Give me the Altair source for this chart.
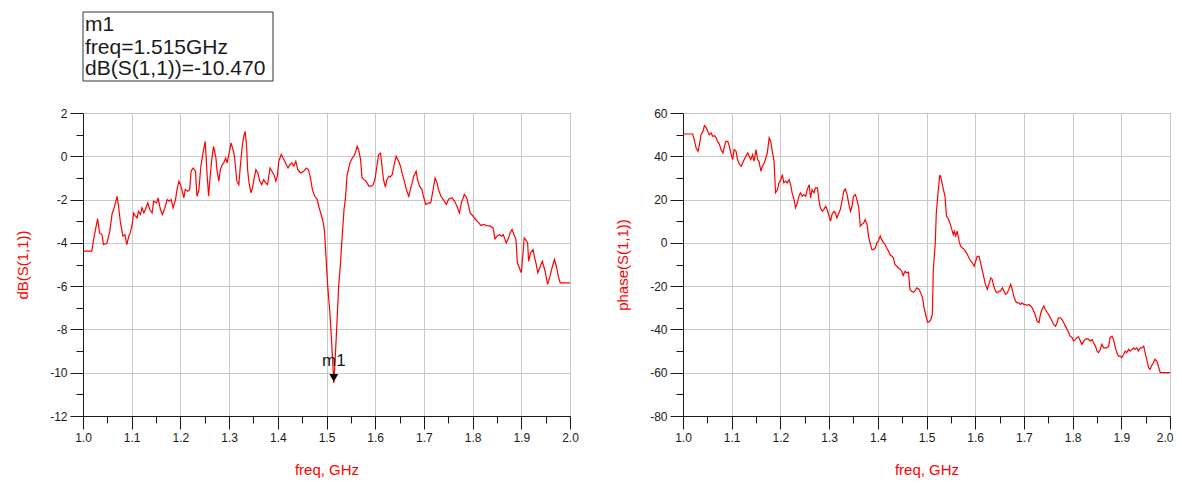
import altair as alt
import pandas as pd

# ---------------- data ----------------
db_freq = [
    1.000, 1.018, 1.023, 1.030, 1.034, 1.039, 1.042, 1.049, 1.055, 1.060,
    1.063, 1.070, 1.073, 1.077, 1.082, 1.086, 1.090, 1.094, 1.097, 1.101,
    1.104, 1.108, 1.111, 1.114, 1.118, 1.121, 1.125, 1.128, 1.133, 1.137,
    1.142, 1.145, 1.151, 1.154, 1.159, 1.163, 1.167, 1.173, 1.177, 1.181,
    1.185, 1.190, 1.193, 1.197, 1.200, 1.203, 1.207, 1.210, 1.215, 1.219,
    1.222, 1.226, 1.231, 1.234, 1.238, 1.242, 1.247, 1.251, 1.255, 1.258,
    1.260, 1.264, 1.268, 1.273, 1.275, 1.279, 1.282, 1.286, 1.289, 1.293,
    1.296, 1.300, 1.304, 1.308, 1.311, 1.314, 1.316, 1.320, 1.323, 1.327,
    1.330, 1.333, 1.336, 1.338, 1.341, 1.345, 1.348, 1.351, 1.355, 1.359,
    1.363, 1.367, 1.371, 1.375, 1.379, 1.384, 1.388, 1.392, 1.396, 1.399,
    1.402, 1.407, 1.411, 1.416, 1.421, 1.425, 1.429, 1.433, 1.437, 1.441,
    1.447, 1.453, 1.459, 1.463, 1.467, 1.471, 1.476, 1.481, 1.484, 1.488,
    1.492, 1.496, 1.500, 1.503, 1.507, 1.510, 1.513, 1.515, 1.517, 1.520,
    1.525, 1.529, 1.532, 1.536, 1.539, 1.542, 1.548, 1.553, 1.556, 1.559,
    1.563, 1.566, 1.570, 1.573, 1.577, 1.581, 1.587, 1.592, 1.596, 1.600,
    1.604, 1.607, 1.611, 1.614, 1.617, 1.621, 1.624, 1.628, 1.631, 1.635,
    1.639, 1.643, 1.648, 1.652, 1.655, 1.660, 1.664, 1.669, 1.672, 1.676,
    1.679, 1.684, 1.687, 1.691, 1.696, 1.699, 1.704, 1.710, 1.714, 1.719,
    1.723, 1.727, 1.730, 1.735, 1.740, 1.746, 1.751, 1.758, 1.763, 1.768,
    1.773, 1.777, 1.783, 1.788, 1.792, 1.795, 1.801, 1.806, 1.812, 1.817,
    1.822, 1.829, 1.836, 1.842, 1.846, 1.850, 1.855, 1.860, 1.863, 1.869,
    1.874, 1.877, 1.881, 1.885, 1.889, 1.892, 1.896, 1.900, 1.903, 1.906,
    1.909, 1.913, 1.915, 1.919, 1.924, 1.926, 1.930, 1.934, 1.939, 1.943,
    1.945, 1.949, 1.954, 1.959, 1.964, 1.968, 1.972, 1.976, 1.980, 2.000,
]
db_val = [
    -4.38, -4.38, -3.69, -2.89, -3.54, -3.62, -4.08, -4.03, -3.46, -2.62,
    -2.46, -1.85, -2.31, -3.08, -3.69, -3.62, -4.08, -3.69, -3.54, -3.15,
    -2.62, -2.77, -2.85, -2.54, -2.69, -2.38, -2.62, -2.46, -2.15, -2.46,
    -2.62, -2.08, -2.15, -1.92, -2.46, -2.69, -2.46, -2.00, -2.08, -2.00,
    -2.38, -2.00, -1.54, -1.15, -1.31, -1.54, -1.92, -1.54, -1.62, -1.54,
    -0.69, -0.54, -0.69, -1.85, -1.54, -0.46, 0.23, 0.69, -0.92, -1.85,
    -1.23, -0.23, 0.46, -0.08, -0.62, -1.15, -0.62, -0.38, -0.31, -0.08,
    -0.31, 0.15, 0.62, 0.31, 0.00, -0.69, -1.15, -1.31, -0.46, 0.46,
    0.92, 1.15, 0.46, -0.62, -1.23, -1.69, -1.46, -1.08, -0.62, -0.77,
    -1.15, -1.31, -1.08, -1.23, -1.31, -0.54, -0.69, -0.85, -1.15, -0.92,
    -0.23, 0.08, -0.08, -0.31, -0.54, -0.38, -0.31, -0.46, -0.23, -0.62,
    -0.77, -0.69, -0.54, -0.62, -1.00, -1.54, -1.85, -2.00, -2.31, -2.62,
    -2.92, -3.46, -5.08, -6.15, -7.23, -8.38, -9.60, -10.47, -9.69, -8.38,
    -6.00, -4.85, -3.77, -2.46, -1.92, -0.92, -0.31, -0.08, 0.00, 0.15,
    0.46, 0.31, -0.15, -1.00, -1.08, -1.15, -1.38, -1.38, -1.31, -1.00,
    -0.38, 0.08, 0.15, -0.46, -1.08, -1.42, -1.08, -0.92, -0.95, -0.85,
    -0.38, 0.00, -0.23, -0.46, -0.77, -1.15, -1.54, -1.85, -1.54, -1.23,
    -0.92, -0.69, -1.08, -1.38, -1.54, -1.85, -2.23, -2.15, -2.15, -1.54,
    -1.00, -1.23, -1.54, -1.85, -2.00, -2.23, -1.97, -1.92, -2.08, -2.31,
    -2.62, -2.15, -1.77, -1.92, -2.31, -2.62, -2.77, -2.92, -3.05, -3.20,
    -3.15, -3.20, -3.23, -3.31, -3.82, -3.69, -3.62, -3.69, -3.62, -4.00,
    -3.77, -3.54, -3.38, -3.62, -3.85, -4.92, -5.15, -5.38, -4.62, -3.77,
    -3.85, -4.00, -4.85, -4.46, -4.31, -4.54, -4.92, -5.38, -5.08, -4.85,
    -5.00, -5.31, -5.92, -5.54, -5.08, -4.77, -5.08, -5.54, -5.85, -5.85,
]

ph_freq = [
    1.000, 1.020, 1.024, 1.027, 1.031, 1.033, 1.035, 1.037, 1.041, 1.044,
    1.048, 1.051, 1.054, 1.058, 1.061, 1.065, 1.068, 1.071, 1.075, 1.078,
    1.082, 1.085, 1.088, 1.092, 1.095, 1.099, 1.102, 1.105, 1.109, 1.112,
    1.116, 1.120, 1.124, 1.129, 1.133, 1.136, 1.139, 1.143, 1.146, 1.150,
    1.153, 1.156, 1.160, 1.163, 1.167, 1.170, 1.173, 1.177, 1.180, 1.184,
    1.187, 1.190, 1.194, 1.197, 1.201, 1.204, 1.207, 1.211, 1.214, 1.218,
    1.221, 1.224, 1.228, 1.231, 1.235, 1.238, 1.241, 1.245, 1.248, 1.252,
    1.255, 1.259, 1.262, 1.265, 1.269, 1.272, 1.276, 1.279, 1.282, 1.286,
    1.289, 1.293, 1.296, 1.299, 1.303, 1.306, 1.310, 1.313, 1.316, 1.320,
    1.323, 1.327, 1.330, 1.333, 1.337, 1.340, 1.344, 1.347, 1.350, 1.354,
    1.357, 1.361, 1.364, 1.367, 1.371, 1.374, 1.378, 1.381, 1.384, 1.388,
    1.391, 1.395, 1.398, 1.401, 1.405, 1.408, 1.412, 1.415, 1.418, 1.422,
    1.425, 1.429, 1.432, 1.435, 1.439, 1.442, 1.446, 1.449, 1.452, 1.456,
    1.459, 1.463, 1.466, 1.469, 1.473, 1.476, 1.480,
    1.485, 1.488, 1.492, 1.495, 1.499, 1.502, 1.505, 1.509, 1.512, 1.514,
    1.516, 1.518, 1.520, 1.523, 1.525, 1.527, 1.529, 1.531, 1.534, 1.538,
    1.541, 1.544, 1.548, 1.551, 1.555, 1.557, 1.560, 1.563, 1.567, 1.570,
    1.574, 1.577, 1.580, 1.584, 1.587, 1.591, 1.594, 1.598, 1.601, 1.604,
    1.608, 1.611, 1.615, 1.618, 1.621, 1.625, 1.628, 1.632, 1.635, 1.638,
    1.642, 1.645, 1.649, 1.652, 1.656, 1.659, 1.662, 1.666, 1.669, 1.673,
    1.676, 1.679, 1.683, 1.686, 1.690, 1.693, 1.696, 1.700, 1.703, 1.707,
    1.710, 1.714, 1.717, 1.720, 1.724, 1.727, 1.731, 1.734, 1.737, 1.741,
    1.744, 1.748, 1.751, 1.754, 1.758, 1.761, 1.765, 1.768, 1.771, 1.775,
    1.778, 1.782, 1.785, 1.789, 1.792, 1.795, 1.799, 1.802, 1.806, 1.809,
    1.812, 1.816, 1.819, 1.823, 1.826, 1.829, 1.833, 1.836, 1.840, 1.843,
    1.847, 1.850, 1.853, 1.857, 1.860, 1.864, 1.867, 1.870, 1.874, 1.877,
    1.881, 1.884, 1.887, 1.891, 1.894, 1.898, 1.901, 1.905, 1.908, 1.911,
    1.915, 1.918, 1.922, 1.925, 1.928, 1.932, 1.935, 1.939, 1.942, 1.946,
    1.949, 1.953, 1.956, 1.959, 1.962, 1.966, 1.969, 1.973, 1.976, 1.980,
    2.000,
]
ph_val = [
    50.3, 50.3, 46.9, 43.8, 42.3, 44.6, 46.9, 50.0, 51.5, 54.2,
    53.1, 51.5, 50.0, 50.8, 49.2, 49.5, 48.5, 46.9, 45.4, 43.1,
    41.5, 44.6, 46.9, 46.9, 44.6, 40.8, 38.5, 43.1, 42.3, 38.5,
    36.2, 35.4, 37.7, 40.0, 41.5, 40.0, 38.5, 40.8, 37.7, 43.1,
    38.5, 37.7, 33.1, 35.4, 36.9, 39.2, 41.5, 48.5, 46.9, 41.5,
    37.7, 23.1, 24.6, 27.7, 29.2, 31.5, 27.7, 28.5, 27.7, 29.2,
    26.9, 23.1, 20.0, 16.2, 18.5, 21.5, 23.1, 21.5, 22.3, 21.5,
    24.6, 26.9, 20.8, 24.6, 23.1, 25.4, 25.4, 20.0, 16.2, 14.6,
    15.4, 16.9, 15.4, 13.1, 10.0, 13.1, 14.6, 13.8, 11.5, 13.8,
    15.4, 20.0, 23.8, 24.9, 22.3, 18.5, 14.6, 16.9, 21.5, 22.3,
    20.0, 16.2, 7.7, 8.5, 9.2, 10.8, 8.5, 3.1, 0.0, -3.1,
    -3.1, -2.3, 0.0, 0.8, 3.1, 1.5, 0.0, -0.8, -2.3, -3.8,
    -5.4, -6.2, -6.9, -10.0, -10.8, -11.5, -12.3, -13.1, -15.1, -13.1,
    -13.8, -13.5, -21.5, -22.3, -22.8, -22.3, -20.8,
    -21.5, -23.1, -25.4, -30.0, -33.8, -36.6, -36.6, -35.4, -33.1, -12.3,
    -6.2, 0.0, 13.1, 21.5, 26.2, 31.1, 30.8, 28.5, 25.4, 21.5,
    12.3, 11.5, 9.2, 6.9, 3.8, 5.4, 3.1, 5.4, 0.8, -1.5,
    -2.3, -3.1, -3.8, -5.4, -6.9, -8.5, -9.2, -10.8, -8.5, -6.2,
    -6.2, -9.2, -13.1, -16.2, -19.2, -21.5, -19.2, -16.2, -16.9, -20.0,
    -22.3, -23.1, -22.3, -22.3, -20.8, -22.3, -23.8, -23.1, -21.5, -19.2,
    -21.5, -24.6, -26.9, -27.7, -27.7, -28.5, -27.7, -28.5, -28.5, -28.9,
    -28.5, -29.2, -30.0, -31.5, -33.8, -36.2, -36.9, -33.1, -30.8, -29.2,
    -30.8, -32.3, -33.1, -34.6, -36.2, -37.7, -38.5, -36.9, -34.6, -34.6,
    -35.4, -36.9, -38.5, -40.0, -41.5, -43.1, -43.8, -45.4, -44.6, -43.8,
    -43.4, -45.4, -46.9, -45.4, -44.6, -44.3, -44.6, -45.4, -44.6, -46.2,
    -47.7, -50.0, -50.8, -49.2, -46.9, -48.5, -48.5, -48.5, -47.7, -43.8,
    -43.1, -44.6, -47.7, -50.8, -52.3, -52.3, -53.1, -51.5, -50.0, -50.8,
    -49.2, -50.0, -49.2, -48.5, -49.2, -48.5, -50.0, -48.5, -48.5, -47.7,
    -50.8, -54.6, -57.7, -58.5, -56.9, -55.4, -53.8, -54.6, -56.9, -60.0,
    -60.0,
]

marker_name = "m1"
marker_freq = 1.515
marker_db = -10.470

freq_ticks = [1.0, 1.05, 1.1, 1.15, 1.2, 1.25, 1.3, 1.35, 1.4, 1.45, 1.5,
              1.55, 1.6, 1.65, 1.7, 1.75, 1.8, 1.85, 1.9, 1.95, 2.0]
freq_major = [1.0, 1.1, 1.2, 1.3, 1.4, 1.5, 1.6, 1.7, 1.8, 1.9, 2.0]
db_ticks = [-12, -11, -10, -9, -8, -7, -6, -5, -4, -3, -2, -1, 0, 1, 2]
db_major = [-12, -10, -8, -6, -4, -2, 0, 2]
phase_ticks = [-80, -70, -60, -50, -40, -30, -20, -10, 0, 10, 20, 30, 40, 50, 60]
phase_major = [-80, -60, -40, -20, 0, 20, 40, 60]

db_domain = [-12, 2]
phase_domain = [-80, 60]
freq_domain = [1.0, 2.0]

# ---------------- styling ----------------
FONT = "Liberation Sans"
W, H = 487, 303
INK = "#1a1a1a"
GRID = "#c8c8c8"
RED = "#ff0000"

df_db = pd.DataFrame({"freq": db_freq, "val": db_val})
df_ph = pd.DataFrame({"freq": ph_freq, "val": ph_val})
df_mk = pd.DataFrame({"freq": [marker_freq], "val": [marker_db], "lab": [marker_name]})


def main_axis(values, major_test, label_expr, title, is_x, last_right=False):
    kw = dict(
        values=values, title=title, grid=False,
        titleColor=RED, titleFont=FONT, titleFontSize=15, titleFontWeight="normal",
        titleBaseline="middle", titleAlign="center",
        labelFont=FONT, labelFontSize=12, labelColor=INK, labelExpr=label_expr,
        labelOverlap=False, labelFlush=False, labelPadding=3,
        tickSize={"condition": {"test": major_test, "value": 13}, "value": 7},
        tickColor=INK, tickWidth=1, domainColor=INK, domainWidth=1,
    )
    if is_x:
        kw.update(titleX=W / 2, titleY=53, titleAngle=0)
        if last_right:
            kw.update(
                labelAlign={"condition": {"test": "datum.value > 1.99", "value": "right"},
                            "value": "center"},
                labelOffset={"condition": {"test": "datum.value > 1.99", "value": 3},
                             "value": 0},
            )
    else:
        kw.update(titleX=-61, titleY=H / 2, titleAngle=270)
    return alt.Axis(**kw)


def grid_axis(values):
    return alt.Axis(values=values, grid=True, gridColor=GRID, gridWidth=1, gridOpacity=1,
                    labels=False, ticks=False, domain=False, title=None)


x_major_test = "round(datum.value * 20) % 2 == 0"
x_label = "round(datum.value * 20) % 2 == 0 ? format(datum.value, '.1f') : ''"
db_test = "abs(datum.value) % 2 == 0"
db_label = "abs(datum.value) % 2 == 0 ? '' + datum.value : ''"
ph_test = "abs(datum.value) % 20 == 0"
ph_label = "abs(datum.value) % 20 == 0 ? '' + datum.value : ''"

xs = alt.Scale(domain=freq_domain, nice=False, zero=False)
ys_db = alt.Scale(domain=db_domain, nice=False, zero=False)
ys_ph = alt.Scale(domain=phase_domain, nice=False, zero=False)

# ---------------- left panel ----------------
line_db = alt.Chart(df_db).mark_line(color=RED, strokeWidth=1.2, clip=True).encode(
    x=alt.X("freq:Q", scale=xs, axis=main_axis(freq_ticks, x_major_test, x_label, "freq, GHz", True)),
    y=alt.Y("val:Q", scale=ys_db, axis=main_axis(db_ticks, db_test, db_label, "dB(S(1,1))", False)),
)
grid_db = alt.Chart(df_db).mark_line(opacity=0).encode(
    x=alt.X("freq:Q", scale=xs, axis=grid_axis(freq_major)),
    y=alt.Y("val:Q", scale=ys_db, axis=grid_axis(db_major)),
)
tri = alt.Chart(df_mk).mark_point(shape="triangle-down", filled=True, color="black",
                                   opacity=1, size=80, yOffset=-5).encode(
    x=alt.X("freq:Q", scale=xs, axis=None), y=alt.Y("val:Q", scale=ys_db, axis=None))
mk_text = alt.Chart(df_mk).mark_text(font=FONT, fontSize=17, color=INK,
                                      baseline="alphabetic", yOffset=-17).encode(
    x=alt.X("freq:Q", scale=xs, axis=None), y=alt.Y("val:Q", scale=ys_db, axis=None),
    text="lab:N")

box = alt.Chart(df_mk).mark_rect(fill="white", stroke="#333333", strokeWidth=1).encode(
    x=alt.value(0), x2=alt.value(190), y=alt.value(-101), y2=alt.value(-32))

box_lines = [marker_name,
             f"freq={marker_freq:.3f}GHz",
             f"dB(S(1,1))={marker_db:.3f}"]
box_y = [-82, -59, -38]
box_texts = [
    alt.Chart(df_mk).mark_text(font=FONT, fontSize=21, color=INK, align="left",
                               baseline="alphabetic", text=t).encode(
        x=alt.value(2), y=alt.value(yy))
    for t, yy in zip(box_lines, box_y)
]

left = alt.layer(line_db, grid_db, tri, mk_text, box, *box_texts).resolve_axis(
    x="independent", y="independent").properties(width=W, height=H)

# ---------------- right panel ----------------
line_ph = alt.Chart(df_ph).mark_line(color=RED, strokeWidth=1.2, clip=True).encode(
    x=alt.X("freq:Q", scale=xs,
            axis=main_axis(freq_ticks, x_major_test, x_label, "freq, GHz", True, last_right=True)),
    y=alt.Y("val:Q", scale=ys_ph, axis=main_axis(phase_ticks, ph_test, ph_label, "phase(S(1,1))", False)),
)
grid_ph = alt.Chart(df_ph).mark_line(opacity=0).encode(
    x=alt.X("freq:Q", scale=xs, axis=grid_axis(freq_major)),
    y=alt.Y("val:Q", scale=ys_ph, axis=grid_axis(phase_major)),
)
right = alt.layer(line_ph, grid_ph).resolve_axis(
    x="independent", y="independent").properties(width=W, height=H)

chart = alt.hconcat(left, right, spacing=113, bounds="flush").properties(
    padding={"left": 6, "top": 3, "right": 0, "bottom": 0},
    background="white",
).configure_view(stroke=INK, strokeWidth=1)

chart.save("out.html", embed_options={"renderer": "svg", "actions": False})
